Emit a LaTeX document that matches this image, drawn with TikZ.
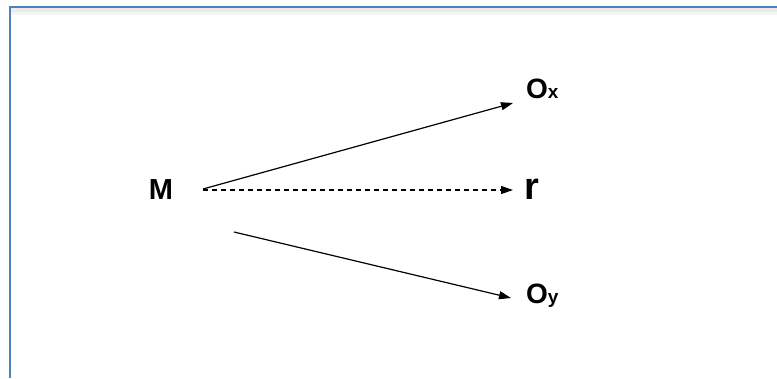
\documentclass[tikz,border=0pt]{standalone}
\usepackage{fontspec}
\setmainfont{Liberation Sans}
\usetikzlibrary{arrows.meta}
\definecolor{frameblue}{RGB}{79,129,189}
\begin{document}
\begin{tikzpicture}[x=1pt,y=-1pt,
  lbl/.style={inner sep=0pt,font=\bfseries\fontsize{28}{32}\selectfont},
  conn/.style={line width=1.2pt,-{Triangle[length=12pt,width=8pt]}}]
\useasboundingbox (0,0) rectangle (777,378);
\fill[white] (0,0) rectangle (777,378);
% frame shadow
\fill[black!8] (11,8) rectangle (777,12);
\fill[black!4] (11,12) rectangle (777,15);
\draw[frameblue,line width=2pt] (10,378) -- (10,7) -- (777,7);
% labels
\node[lbl,anchor=base,font=\bfseries\fontsize{29}{34}\selectfont] (M) at (161,199) {M};
\node[lbl,anchor=base west] (Ox) at (526,98) {O{\fontsize{19}{22}\selectfont x}};
\node[lbl,anchor=base west,font=\bfseries\fontsize{38}{44}\selectfont] (r) at (524,199) {r};
\node[lbl,anchor=base west] (Oy) at (526,303) {O{\fontsize{19}{22}\selectfont y}};
% connector end points
\coordinate (a1) at (203,189);
\coordinate (b1) at (513,103);
\coordinate (a2) at (203,190);
\coordinate (b2) at (513,190);
\coordinate (a3) at (234,232);
\coordinate (b3) at (511,298);
\draw[conn] (a1) -- (b1);
\draw[conn,dashed,dash pattern=on 5pt off 4pt] (a2) -- (b2);
\draw[conn] (a3) -- (b3);
\end{tikzpicture}
\end{document}
